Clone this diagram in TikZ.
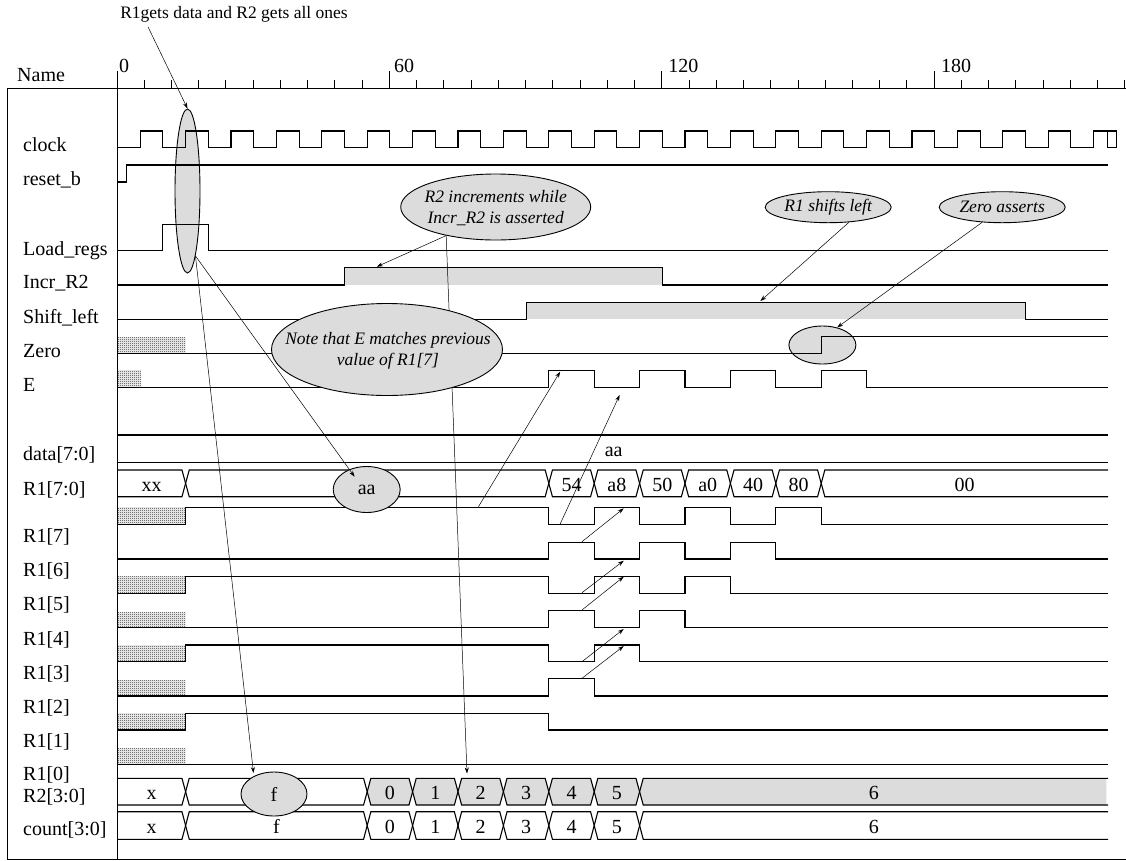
\documentclass[tikz,border=0pt]{standalone}
\usepackage{fontspec}
\setmainfont{Liberation Serif}
\usetikzlibrary{shapes.geometric,arrows.meta,patterns,calc}
\definecolor{lightgray}{RGB}{220,220,220}
\pgfdeclarepatternformonly{checker}{\pgfpointorigin}{\pgfpoint{2pt}{2pt}}{\pgfpoint{2pt}{2pt}}{%
    \pgfpathrectangle{\pgfpointorigin}{\pgfpoint{1pt}{1pt}}%
    \pgfpathrectangle{\pgfpoint{1pt}{1pt}}{\pgfpoint{1pt}{1pt}}%
    \pgfusepath{fill}}

\begin{document}
\begin{tikzpicture}[x=1pt,y=-1pt,
    wave/.style={line width=1.1pt},
    frame/.style={line width=1pt},
    sig/.style={anchor=base west,inner sep=0pt,font=\fontsize{20}{24}\selectfont},
    val/.style={anchor=base,inner sep=0pt,font=\fontsize{20}{24}\selectfont},
    note/.style={inner sep=0pt,align=center,font=\fontsize{17.5}{21.5}\selectfont\itshape},
    bubble/.style={ellipse,draw,fill=lightgray,line width=0.9pt,inner sep=0pt,font=\fontsize{20}{24}\selectfont},
    pointer/.style={-{Stealth[length=6pt,width=4pt]},line width=0.5pt},
    unknown/.style={pattern=checker,pattern color=black!85}]

    \useasboundingbox (0,0) rectangle (1126,860);

    % Frame
    \draw[frame] (1126,88.3) -- (7,88.3) -- (7,859) -- (1126,859);
    \draw[frame] (117,71) -- (117,859);

    % Headings
    \node[sig] (namehd) at (17,81) {Name};
    \node[anchor=base,inner sep=0pt,font=\fontsize{17.5}{21}\selectfont] (r1note) at (234,18) {R1gets data and R2 gets all ones};

    % Signal names
    \foreach \y/\s [count=\i] in {151.5/clock, 185/reset\_b, 255/Load\_regs, 288.3/Incr\_R2, 323.3/Shift\_left,
        357.3/Zero, 391/E, 460/data[7:0], 495/R1[7:0], 542/R1[7], 576/R1[6], 610.5/R1[5], 645/R1[4],
        679/R1[3], 713/R1[2], 747.5/R1[1], 780/R1[0], 802/R2[3:0], 835/count[3:0]}
        \node[sig] (name\i) at (23,\y) {\s};

    % Time axis
    \begin{scope}[xshift=117pt,x=4.54pt]
        \foreach \t in {6,12,...,222} \draw[frame] (\t,80) -- (\t,88.3);
        \foreach \t in {60,120,180} \draw[frame] (\t,71) -- (\t,88.3);
        \foreach \t/\d in {0/0.4, 60/1.0, 120/1.4, 180/1.5} \node[sig] (time\t) at (\t+\d,72) {\t};
    \end{scope}

    % Marks lying under the waveforms
    \node[bubble,minimum width=25,minimum height=164] (loadell) at (187.5,191) {};
    \node[bubble,minimum width=67,minimum height=38] (riseell) at (822.4,345) {};

    \begin{scope}[xshift=117.5pt,x=4.54pt]
        % clock
        \draw[wave] (0,147.7) \foreach \k in {0,...,20} { -- (10*\k+5,147.7) -- (10*\k+5,131) -- (10*\k+10,131) -- (10*\k+10,147.7) }
            -- (215,147.7) -- (215,131) -- (220,131) -- (220,147.7) -- (218.1,147.7) -- (218.1,131);
        % reset_b
        \draw[wave] (0,182) -- (2,182) -- (2,165) -- (218.2,165);
        % Load_regs
        \draw[wave] (0,250.7) -- (10,250.7) -- (10,224.3) -- (20,224.3) -- (20,250.7) -- (218.2,250.7);
        % Incr_R2
        \fill[lightgray] (50,267.7) rectangle (120,285);
        \draw[wave] (0,285) -- (50,285) -- (50,267.7) -- (120,267.7) -- (120,285) -- (218.2,285);
        % Shift_left
        \fill[lightgray] (90,302.3) rectangle (200,319.3);
        \draw[wave] (0,319.3) -- (90,319.3) -- (90,302.3) -- (200,302.3) -- (200,319.3) -- (218.2,319.3);
        % Zero
        \fill[unknown] (0,337.3) rectangle (15,353.3);
        \draw[wave] (0,353.3) -- (155,353.3) -- (155,336.7) -- (218.2,336.7);
        % E
        \fill[unknown] (0,370.7) rectangle (5.2,387.7);
        \draw[wave] (0,387.7) \foreach \a in {95,115,135,155} { -- (\a,387.7) -- (\a,370.7) -- (\a+10,370.7) -- (\a+10,387.7) } -- (218.2,387.7);
        % data[7:0]
        \draw[wave] (0,435) -- (218.2,435);
        \draw[wave] (0,462.7) -- (218.2,462.7);
        \node[val] (dataval) at (109.3,456.7) {aa};

        % R1[7:0]
        \draw[wave] (0,470) -- (14.2,470) -- (15,483.3) -- (14.2,496.7) -- (0,496.7);
        \node[val] (r1x) at (7.5,491.3) {xx};
        \draw[wave] (15,483.3) -- (15.8,470) -- (94.2,470) -- (95,483.3) -- (94.2,496.7) -- (15.8,496.7) -- cycle;
        \foreach \a/\v [count=\i] in {95/54, 105/a8, 115/50, 125/a0, 135/40, 145/80} {
            \draw[wave] (\a,483.3) -- (\a+0.8,470) -- (\a+9.2,470) -- (\a+10,483.3) -- (\a+9.2,496.7) -- (\a+0.8,496.7) -- cycle;
            \node[val] (r1v\i) at (\a+5,491.3) {\v};
        }
        \draw[wave] (218.2,470) -- (155.8,470) -- (155,483.3) -- (155.8,496.7) -- (218.2,496.7);
        \node[val] (r1end) at (186.6,491.3) {00};

        % R1[7] .. R1[0]
        \fill[unknown] (0,507.7) rectangle (15,524.3);
        \draw[wave] (0,524.3) -- (15,524.3) -- (15,507.7) -- (95,507.7) -- (95,524.3)
            \foreach \a in {105,125,145} { -- (\a,524.3) -- (\a,507.7) -- (\a+10,507.7) -- (\a+10,524.3) } -- (218.2,524.3);
        \draw[wave] (0,559) \foreach \a in {95,115,135} { -- (\a,559) -- (\a,542.3) -- (\a+10,542.3) -- (\a+10,559) } -- (218.2,559);
        \fill[unknown] (0,576.7) rectangle (15,593.3);
        \draw[wave] (0,593.3) -- (15,593.3) -- (15,576.7) -- (95,576.7) -- (95,593.3)
            \foreach \a in {105,125} { -- (\a,593.3) -- (\a,576.7) -- (\a+10,576.7) -- (\a+10,593.3) } -- (218.2,593.3);
        \fill[unknown] (0,612) rectangle (15,627.7);
        \draw[wave] (0,627.7) \foreach \a in {95,115} { -- (\a,627.7) -- (\a,610.7) -- (\a+10,610.7) -- (\a+10,627.7) } -- (218.2,627.7);
        \fill[unknown] (0,645) rectangle (15,661.7);
        \draw[wave] (0,661.7) -- (15,661.7) -- (15,645) -- (95,645) -- (95,661.7) -- (105,661.7) -- (105,645) -- (115,645) -- (115,661.7) -- (218.2,661.7);
        \fill[unknown] (0,680.7) rectangle (15,696);
        \draw[wave] (0,696) -- (95,696) -- (95,678.3) -- (105,678.3) -- (105,696) -- (218.2,696);
        \fill[unknown] (0,713.3) rectangle (15,730);
        \draw[wave] (0,730) -- (15,730) -- (15,713.3) -- (95,713.3) -- (95,730) -- (218.2,730);
        \fill[unknown] (0,748.3) rectangle (15,764.3);
        \draw[wave] (0,764.3) -- (218.2,764.3);

        % R2[3:0]
        \draw[wave] (0,778.3) -- (14.2,778.3) -- (15,791.7) -- (14.2,805) -- (0,805);
        \node[val] (r2x) at (7.5,799.7) {x};
        \draw[wave] (15,791.7) -- (15.8,778.3) -- (54.2,778.3) -- (55,791.7) -- (54.2,805) -- (15.8,805) -- cycle;
        \foreach \v in {0,...,5} {
            \draw[wave,fill=lightgray] (55+10*\v,791.7) -- (55.8+10*\v,778.3) -- (64.2+10*\v,778.3) -- (65+10*\v,791.7) -- (64.2+10*\v,805) -- (55.8+10*\v,805) -- cycle;
            \node[val] (r2v\v) at (60+10*\v,799.7) {\v};
        }
        \fill[lightgray] (115.8,778.3) -- (217.8,778.3) -- (217.8,805) -- (115.8,805) -- (115,791.7) -- cycle;
        \draw[wave] (218.2,778.3) -- (115.8,778.3) -- (115,791.7) -- (115.8,805) -- (218.2,805);
        \node[val] (r2end) at (166.6,799.7) {6};

        % count[3:0]
        \draw[wave] (0,811.7) -- (14.2,811.7) -- (15,825.5) -- (14.2,839.3) -- (0,839.3);
        \node[val] (cntx) at (7.5,833.5) {x};
        \draw[wave] (15,825.5) -- (15.8,811.7) -- (54.2,811.7) -- (55,825.5) -- (54.2,839.3) -- (15.8,839.3) -- cycle;
        \node[val] (cntf) at (35,833.5) {f};
        \foreach \v in {0,...,5} {
            \draw[wave] (55+10*\v,825.5) -- (55.8+10*\v,811.7) -- (64.2+10*\v,811.7) -- (65+10*\v,825.5) -- (64.2+10*\v,839.3) -- (55.8+10*\v,839.3) -- cycle;
            \node[val] (cntv\v) at (60+10*\v,833.5) {\v};
        }
        \draw[wave] (218.2,811.7) -- (115.8,811.7) -- (115,825.5) -- (115.8,839.3) -- (218.2,839.3);
        \node[val] (cntend) at (166.6,833.5) {6};

        % E follows R1[7], bits move one place left
        \coordinate (r7a) at (79.5,506.7);
        \coordinate (ehi) at (97.5,371.7);
        \coordinate (r7b) at (97.5,524);
        \coordinate (elo) at (110.6,395);
        \draw[pointer] (r7a) -- (ehi);
        \draw[pointer] (r7b) -- (elo);
        \foreach \ya/\yb [count=\i] in {541.7/508.3, 592.7/560.7, 610/576.7, 661.7/629, 678.3/646} {
            \coordinate (sa\i) at (102.3,\ya);
            \coordinate (sb\i) at (111.5,\yb);
            \draw[pointer] (sa\i) -- (sb\i);
        }
    \end{scope}

    % Marks lying over the buses
    \node[bubble,minimum width=67,minimum height=46] (aaell) at (366.7,489.5) {aa};
    \node[bubble,minimum width=66,minimum height=44] (fell) at (274,794) {f};

    % Callouts
    \node[bubble,minimum width=190,minimum height=66] (incr) at (495.7,207) {};
    \node[note] (incrtxt) at (495.7,208) {R2 increments while\\Incr\_R2 is asserted};
    \node[bubble,minimum width=126,minimum height=31] (shiftell) at (828.2,207.2) {};
    \node[note] (shifttxt) at (828.2,207.2) {R1 shifts left};
    \node[bubble,minimum width=126,minimum height=31] (zeroell) at (1002.2,207.2) {};
    \node[note] (zerotxt) at (1002.2,207.2) {Zero asserts};

    % Pointers
    \coordinate (aatip) at (354.6,476.7);
    \coordinate (ftip) at (253.5,773);
    \coordinate (incrtip) at (376.8,266.7);
    \coordinate (twotip) at (467,773.5);
    \coordinate (shifttip) at (760.4,301);
    \draw[pointer] ($(r1note.south west)+(28,5)$) -- (loadell.north);
    \draw[pointer] (loadell.-83) -- (aatip);
    \draw[pointer] (loadell.-83) -- (ftip);
    \draw[pointer] (incr.-150) -- (incrtip);
    \draw[pointer] (incr.-150) -- (twotip);
    \draw[pointer] (shiftell.-36) -- (shifttip);
    \draw[pointer] (zeroell.-143) -- (riseell.50);

    % Note on E, over everything
    \node[bubble,minimum width=231,minimum height=92] (noteell) at (387,349.5) {};
    \node[note] (notetxt) at (388,351) {Note that E matches previous\\value of R1[7]};

\end{tikzpicture}
\end{document}
